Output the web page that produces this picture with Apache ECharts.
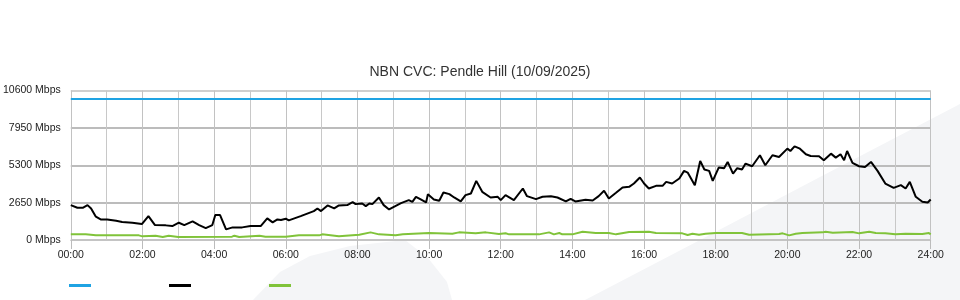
<!DOCTYPE html>
<html>
<head>
<meta charset="utf-8">
<script src="https://cdn.jsdelivr.net/npm/echarts@6/dist/echarts.min.js"></script>
<style>html,body{margin:0;padding:0;background:#fff}#c{width:960px;height:300px}</style>
</head>
<body>
<div id="c"></div>
<script>
// ---- data (minutes after midnight, Mbps) ----
const xTickLabels = ['00:00','02:00','04:00','06:00','08:00','10:00','12:00','14:00','16:00','18:00','20:00','22:00','24:00'];
const yTickValues = [0, 2650, 5300, 7950, 10600];

const capacityTimes = [0, 1440];
const capacityValues = [10000, 10000];

const trafficTimes = [0,11,20,28,34,42,50,61,76,86,103,119,130,141,159,170,181,190,204,215,226,237,242,250,260,271,287,301,318,329,338,346,352,360,365,385,407,413,419,430,441,449,463,472,477,488,494,500,505,516,524,533,541,553,566,572,578,586,595,598,608,617,624,634,642,653,661,670,679,689,703,715,720,728,742,757,764,779,790,804,815,829,837,845,862,874,884,893,901,913,924,935,943,953,960,968,980,991,997,1007,1019,1027,1033,1045,1054,1061,1069,1075,1085,1094,1100,1109,1116,1124,1130,1141,1154,1163,1175,1186,1200,1205,1212,1221,1231,1239,1253,1261,1273,1281,1289,1295,1300,1309,1320,1330,1340,1351,1364,1378,1390,1398,1405,1415,1426,1435,1440];
const trafficValues = [2473,2285,2285,2473,2238,1649,1460,1460,1366,1272,1225,1131,1696,1060,1037,989,1225,1060,1319,1060,848,1060,1767,1767,754,895,895,989,989,1531,1248,1460,1413,1507,1390,1696,2049,2238,2049,2450,2238,2450,2473,2685,2544,2591,2403,2591,2544,3015,2473,2167,2356,2615,2827,2709,3062,2874,2662,3251,2874,2780,3368,3251,3015,2733,3180,3298,4193,3416,3015,3062,2827,3180,2827,3651,3109,2897,3062,3109,3015,2733,2921,2733,2850,2803,3109,3486,2945,3345,3722,3769,4004,4429,4004,3651,3840,3840,4122,4004,4358,4900,4782,3887,5606,4995,4900,4193,5135,5088,5535,4711,5088,4995,5418,5230,6007,5300,6007,5889,6477,6312,6642,6477,6077,5959,5936,5653,6123,5842,6077,5653,6312,5465,5230,5182,5535,4900,4004,3698,3887,3651,4122,3062,2709,2662,2874];

const uploadTimes = [0,25,42,114,120,142,154,164,180,270,274,282,316,326,360,382,416,421,449,483,502,516,544,556,600,639,650,678,695,717,728,734,784,801,809,818,823,840,857,879,901,913,935,968,980,1024,1033,1041,1052,1063,1080,1124,1136,1186,1192,1203,1214,1225,1259,1264,1276,1309,1320,1337,1348,1364,1381,1398,1426,1437,1440];
const uploadValues = [400,400,330,330,259,306,212,306,212,236,306,212,306,236,236,330,330,400,259,377,541,400,330,400,494,447,541,471,541,424,480,400,400,541,400,494,400,400,589,494,494,400,565,589,494,471,353,447,377,447,494,494,377,424,471,330,447,494,541,589,518,565,471,589,494,471,400,447,424,494,400];

const seriesNames = ['CVC Capacity', 'CVC Utilisation', 'Upload'];
const seriesColors = ['#1fa3e3', '#000000', '#80c33a'];

function pairs(t, v) { return t.map((x, i) => [x, v[i]]); }

const FONT = "'Liberation Sans', Arial, sans-serif";
const chart = echarts.init(document.getElementById('c'), null, {renderer: 'canvas'});
chart.setOption({
  animation: false,
  backgroundColor: '#ffffff',
  textStyle: {fontFamily: FONT},
  graphic: [
    {type: 'polygon', z: -10, silent: true,
     shape: {points: [[585,300],[700,240],[820,177],[960,104],[960,300]]},
     style: {fill: '#f4f5f7'}},
    {type: 'polygon', z: -10, silent: true,
     shape: {points: [[253,300],[280,272],[310,256],[350,246],[405,240],[428,258],[447,282],[452,300]]},
     style: {fill: '#f4f5f7'}}
  ],
  title: {
    text: 'NBN CVC: Pendle Hill (10/09/2025)',
    left: 'center', top: 60,
    textStyle: {fontSize: 14, fontWeight: 'normal', color: '#333', fontFamily: FONT}
  },
  legend: {
    left: 69, top: 284, padding: 0,
    icon: 'rect', itemWidth: 22, itemHeight: 3, itemGap: 78,
    formatter: function () { return ''; },
    textStyle: {fontSize: 12},
    data: seriesNames
  },
  grid: {left: 70.7, right: 29.3, top: 90.5, bottom: 60, containLabel: false},
  xAxis: {
    type: 'value', min: 0, max: 1440, interval: 120,
    axisLine: {show: true, lineStyle: {color: '#c4c4c4', width: 1}},
    axisTick: {show: true, length: 9, lineStyle: {color: '#bcbcbc'}},
    axisLabel: {
      margin: 10, fontSize: 10.5, color: '#222', fontFamily: FONT,
      formatter: function (v) { return xTickLabels[Math.round(v / 120)]; }
    },
    splitLine: {show: true, lineStyle: {color: '#c2c2c2', width: 1}},
    minorTick: {show: false, splitNumber: 2},
    minorSplitLine: {show: true, lineStyle: {color: '#c8c8c8', width: 1}}
  },
  yAxis: {
    type: 'value', min: 0, max: 10600, interval: 2650,
    axisLine: {show: false}, axisTick: {show: false},
    axisLabel: {
      margin: 10, fontSize: 10.5, color: '#222', fontFamily: FONT,
      formatter: function (v) { return v + ' Mbps'; }
    },
    splitLine: {show: true, lineStyle: {color: ['#c4c4c4','#bcbcbc','#bcbcbc','#bcbcbc','#cfcfcf'], width: 2}}
  },
  series: [
    {name: seriesNames[0], type: 'line', data: pairs(capacityTimes, capacityValues),
     showSymbol: false, color: seriesColors[0], lineStyle: {width: 2}, z: 3},
    {name: seriesNames[1], type: 'line', data: pairs(trafficTimes, trafficValues),
     showSymbol: false, color: seriesColors[1], lineStyle: {width: 2}, z: 4},
    {name: seriesNames[2], type: 'line', data: pairs(uploadTimes, uploadValues),
     showSymbol: false, color: seriesColors[2], lineStyle: {width: 2}, z: 3}
  ]
});
</script>
</body>
</html>
